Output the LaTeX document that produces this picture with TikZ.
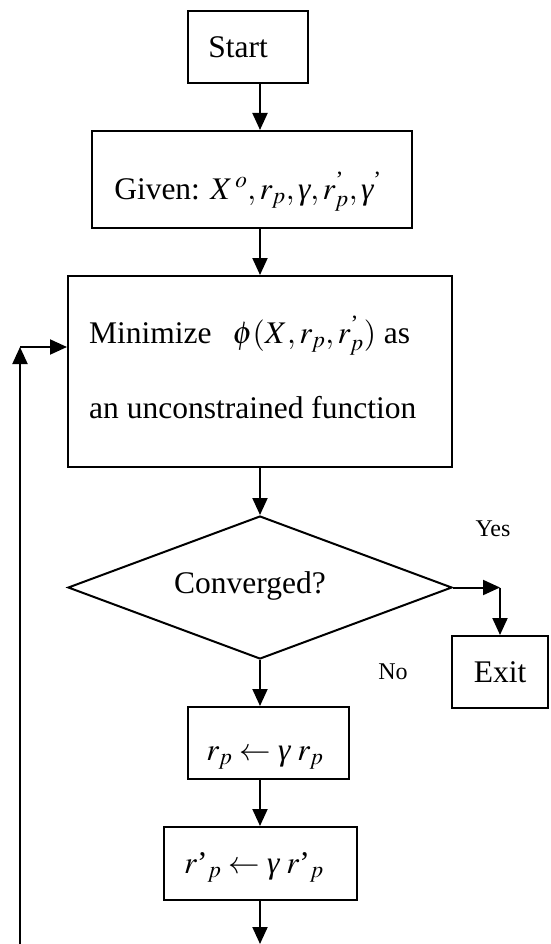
\documentclass[tikz,border=0pt]{standalone}
\usepackage{amsmath}
\usepackage{mathptmx}
\usepackage{fontspec}
\setmainfont{Liberation Serif}
\usetikzlibrary{arrows.meta,shapes.geometric}

% italic serif gamma, lighter than the math one
\newcommand{\itgam}{\text{\itshape γ}}

\tikzset{
  box/.style={draw, line width=2pt, inner sep=0pt},
  arr/.style={-{Triangle[length=17pt,width=15pt]}, line width=2pt},
  txt/.style={font=\fontsize{31.5}{38}\selectfont, inner sep=0pt, anchor=base},
  small/.style={font=\fontsize{24}{28}\selectfont},
}

\begin{document}
\begin{tikzpicture}[x=1pt, y=-1pt]
  \useasboundingbox (0,0) rectangle (550,944);
  \coordinate (col) at (260,0);

  % boxes
  \node[box, minimum width=120pt, minimum height=72pt]  (start)  at (248,47) {};
  \node[box, minimum width=320pt, minimum height=97pt]  (given)  at (252,179.5) {};
  \node[box, minimum width=384pt, minimum height=191pt] (minbox) at (260,371.5) {};
  \node[box, diamond, minimum width=384pt, minimum height=143pt] (conv) at (260,587.5) {};
  \node[box, minimum width=96pt, minimum height=72pt]   (exit)   at (500,672) {};
  \node[box, minimum width=161pt, minimum height=72pt]  (rp)     at (268.5,743) {};
  \node[box, minimum width=193pt, minimum height=73pt]  (rpp)    at (260.5,863.5) {};

  % texts
  \node[txt] (tstart) at (238,58) {Start};
  \node[txt] (tgiven) at (248,199) {Given: $X^{\,o}, r_{p}, \itgam, r_{p}^{\text{’}}, \itgam^{\text{’}}$};
  \node[txt, anchor=base west] (tmina) at (89,343) {Minimize\ \ \,$\phi(X, r_{p}, r_{p}^{\text{’}})$ as};
  \node[txt, anchor=base west] (tminb) at (89,418) {an unconstrained function};
  \node[txt] (tconv) at (250,593) {Converged?};
  \node[txt, small] (tyes) at (493,536) {Yes};
  \node[txt, small] (tno)  at (393,679) {No};
  \node[txt] (texit) at (500,682) {Exit};
  \node[txt] (trp)  at (265,760) {$r_{p}\leftarrow\itgam\; r_{p}$};
  \node[txt] (trpp) at (254,873) {$r\text{’}_{p}\leftarrow\itgam\; r\text{’}_{p}$};

  % connectors
  \coordinate (yc)  at (500,587.5);
  \coordinate (bot) at (260,944);
  \coordinate (lb)  at (20,944);
  \coordinate (lt)  at (20,347);

  \draw[arr] (start.south -| col) -- (given.north -| col);
  \draw[arr] (given.south -| col) -- (minbox.north -| col);
  \draw[arr] (minbox.south -| col) -- (conv.north);
  \draw[arr] (conv.south) -- (rp.north -| col);
  \draw[arr] (rp.south -| col) -- (rpp.north -| col);
  \draw[arr] (rpp.south -| col) -- (bot);
  \draw[arr] (conv.east) -- (yc);
  \draw[arr] (yc) -- (exit.north);
  \draw[arr] (lb) -- (lt);
  \draw[arr] (lt) -- (lt -| minbox.west);
\end{tikzpicture}
\end{document}
